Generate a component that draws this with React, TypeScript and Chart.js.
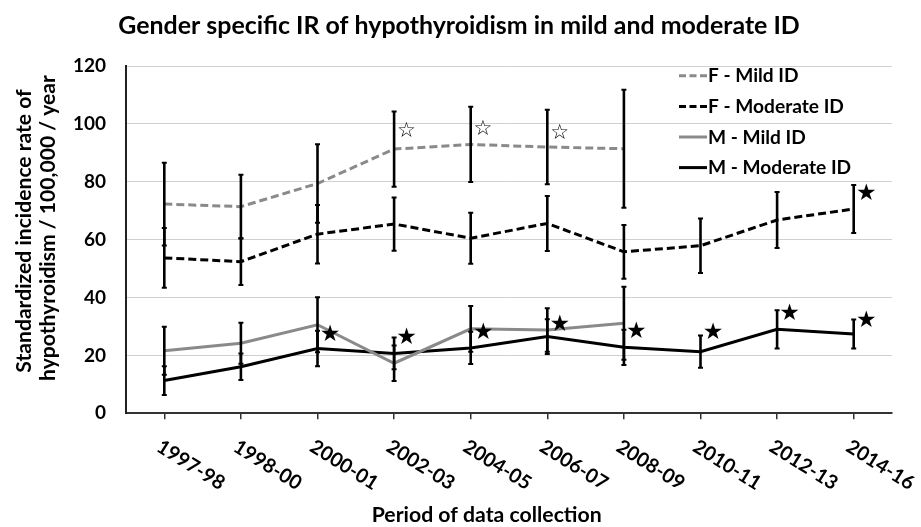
import { useEffect, useRef } from 'react';
import { Chart, registerables } from 'chart.js';

Chart.register(...registerables);

// ---------- data ----------
const categories = ['1997-98', '1998-00', '2000-01', '2002-03', '2004-05', '2006-07', '2008-09', '2010-11', '2012-13', '2014-16'];

const fMild = [72.3, 71.4, 79.4, 91.3, 92.9, 92.0, 91.4, null, null, null];
const fMildErr = [14.3, 11.0, 13.6, 13.0, 13.0, 12.9, 20.4, null, null, null];

const fModerate = [53.7, 52.4, 61.9, 65.4, 60.5, 65.6, 55.8, 57.9, 66.8, 70.6];
const fModerateErr = [10.3, 8.1, 10.1, 9.2, 8.8, 9.5, 9.3, 9.4, 9.7, 8.3];

const mMild = [21.6, 24.2, 30.6, 17.3, 29.2, 28.8, 31.1, null, null, null];
const mMildErr = [8.3, 7.1, 9.5, 6.1, 7.9, 7.5, 12.6, null, null, null];

const mModerate = [11.3, 16.1, 22.4, 20.7, 22.6, 26.5, 22.8, 21.3, 29.0, 27.4];
const mModerateErr = [5.0, 4.6, 6.1, 5.5, 5.6, 6.0, 6.1, 5.6, 6.6, 5.0];

// significance markers: category index + value level
const openStarCats = [3, 4, 5];
const openStarVals = [97.3, 98.2, 96.7];
const filledStarCats = [2, 3, 4, 5, 6, 7, 8, 9, 9];
const filledStarVals = [27.0, 26.1, 27.6, 30.5, 28.2, 27.8, 34.3, 32.0, 75.7];

const yTicks = [0, 20, 40, 60, 80, 100, 120];

const titleText = 'Gender specific IR of hypothyroidism in mild and moderate ID';
const yTitleLines = ['Standardized incidence rate of', 'hypothyroidism / 100,000 / year'];
const xTitleText = 'Period of data collection';
const legendLabels = ['F - Mild ID', 'F - Moderate ID', 'M - Mild ID', 'M - Moderate ID'];

// ---------- styles ----------
const FONT = 'Lato, "Open Sans", "DejaVu Sans", sans-serif';
const GRAY = '#8a8a8a';
const BLACK = '#000000';
const DASH = [8, 4];

function fitSize(ctx: CanvasRenderingContext2D, text: string, target: number) {
  ctx.font = `bold 20px ${FONT}`;
  const w = ctx.measureText(text).width;
  return (20 * target) / w;
}

const overlayPlugin = {
  id: 'overlay',
  afterDatasetsDraw(chart: any) {
    const { ctx } = chart;
    const x = chart.scales.x;
    const y = chart.scales.y;
    const sets: [(number | null)[], (number | null)[]][] = [
      [fMild, fMildErr],
      [fModerate, fModerateErr],
      [mMild, mMildErr],
      [mModerate, mModerateErr],
    ];
    ctx.save();
    ctx.strokeStyle = BLACK;
    ctx.lineCap = 'butt';
    sets.forEach(([vals, errs]) => {
      vals.forEach((v, i) => {
        const e = errs[i];
        if (v == null || e == null) return;
        const px = x.getPixelForValue(i);
        const top = y.getPixelForValue(v + e);
        const bot = y.getPixelForValue(v - e);
        ctx.lineWidth = 2.6;
        ctx.beginPath();
        ctx.moveTo(px, top);
        ctx.lineTo(px, bot);
        ctx.stroke();
        ctx.lineWidth = 2;
        ctx.beginPath();
        ctx.moveTo(px - 2.5, top);
        ctx.lineTo(px + 2.5, top);
        ctx.moveTo(px - 2.5, bot);
        ctx.lineTo(px + 2.5, bot);
        ctx.stroke();
      });
    });

    // stars
    ctx.fillStyle = BLACK;
    ctx.textAlign = 'center';
    ctx.textBaseline = 'middle';
    ctx.font = '23px "DejaVu Sans"';
    filledStarCats.forEach((c, i) => {
      ctx.fillText('\u2605', x.getPixelForValue(c) + 12.5, y.getPixelForValue(filledStarVals[i]));
    });
    ctx.font = '21px "DejaVu Sans"';
    openStarCats.forEach((c, i) => {
      ctx.fillText('\u2606', x.getPixelForValue(c) + 12.3, y.getPixelForValue(openStarVals[i]));
    });
    ctx.restore();
  },
  afterDraw(chart: any) {
    const { ctx } = chart;
    const x = chart.scales.x;
    const area = chart.chartArea;
    ctx.save();
    ctx.fillStyle = BLACK;

    // title
    const ts = fitSize(ctx, titleText, 682);
    ctx.font = `bold ${ts}px ${FONT}`;
    ctx.textAlign = 'center';
    ctx.textBaseline = 'alphabetic';
    ctx.fillText(titleText, 459, 33.5);

    // y axis title (two lines, rotated)
    const ys = fitSize(ctx, yTitleLines[1], 306);
    ctx.font = `bold ${ys}px ${FONT}`;
    [[31, 231], [55, 228]].forEach(([bx, cy], i) => {
      ctx.save();
      ctx.translate(bx, cy);
      ctx.rotate(-Math.PI / 2);
      ctx.textAlign = 'center';
      ctx.fillText(yTitleLines[i], 0, 0);
      ctx.restore();
    });

    // x axis title
    const xs = fitSize(ctx, xTitleText, 230);
    ctx.font = `bold ${xs}px ${FONT}`;
    ctx.textAlign = 'center';
    ctx.fillText(xTitleText, 486.7, 522);

    // x tick labels rotated clockwise
    const ls = fitSize(ctx, categories[0], 76);
    ctx.font = `bold ${ls}px ${FONT}`;
    const ang = (32 * Math.PI) / 180;
    categories.forEach((lab, i) => {
      const px = x.getPixelForValue(i);
      ctx.save();
      ctx.translate(px - 9, area.bottom + 37);
      ctx.rotate(ang);
      ctx.textAlign = 'left';
      ctx.fillText(lab, 0, 0);
      ctx.restore();
    });

    // legend
    const gs = fitSize(ctx, legendLabels[1], 136);
    ctx.font = `bold ${gs}px ${FONT}`;
    ctx.textAlign = 'left';
    const colors = [GRAY, BLACK, GRAY, BLACK];
    const dashed = [true, true, false, false];
    legendLabels.forEach((lab, i) => {
      const baseY = 82.3 + i * 30.6;
      const midY = baseY - 6.5;
      ctx.beginPath();
      ctx.strokeStyle = colors[i];
      ctx.lineWidth = 3;
      ctx.setLineDash(dashed[i] ? [7, 3.5] : []);
      ctx.moveTo(679, midY);
      ctx.lineTo(707, midY);
      ctx.stroke();
      ctx.setLineDash([]);
      ctx.fillStyle = BLACK;
      ctx.fillText(lab, 708, baseY);
    });
    ctx.restore();
  },
};

export default function App() {
  const ref = useRef<HTMLCanvasElement>(null);
  useEffect(() => {
    if (!ref.current) return;
    const chart = new Chart(ref.current, {
      type: 'line',
      data: {
        labels: categories,
        datasets: [
          { label: legendLabels[0], data: fMild, borderColor: GRAY, borderDash: DASH, borderWidth: 3, pointRadius: 0, tension: 0, fill: false },
          { label: legendLabels[1], data: fModerate, borderColor: BLACK, borderDash: DASH, borderWidth: 3, pointRadius: 0, tension: 0, fill: false },
          { label: legendLabels[2], data: mMild, borderColor: GRAY, borderWidth: 3, pointRadius: 0, tension: 0, fill: false },
          { label: legendLabels[3], data: mModerate, borderColor: BLACK, borderWidth: 3, pointRadius: 0, tension: 0, fill: false },
        ],
      },
      options: {
        responsive: false,
        animation: false,
        spanGaps: false,
        layout: { padding: { top: 66, right: 29, bottom: 0, left: 0 } },
        plugins: { legend: { display: false }, title: { display: false }, tooltip: { enabled: false } },
        scales: {
          x: {
            type: 'category',
            offset: true,
            grid: { drawOnChartArea: false, drawTicks: true, tickLength: 6, color: '#333', lineWidth: 1.5, offset: false },
            border: { display: true, color: '#333', width: 2 },
            ticks: { display: false },
            afterFit: (s: any) => { s.height = 113.7; },
          },
          y: {
            min: 0,
            max: 120,
            afterBuildTicks: (s: any) => { s.ticks = yTicks.map((v) => ({ value: v })); },
            grid: { color: '#d0d0d0', lineWidth: 1, drawTicks: false },
            border: { display: true, color: '#222', width: 2 },
            ticks: { color: BLACK, padding: 20, font: { family: FONT, size: 19, weight: 'bold' } },
            afterFit: (s: any) => { s.width = 126; },
          },
        },
      },
      plugins: [overlayPlugin],
    });
    return () => chart.destroy();
  }, []);
  return (
    <div style={{ position: 'absolute', left: 0, top: 0, width: 921, height: 527, background: '#fff' }}>
      <canvas ref={ref} width={921} height={527} style={{ display: 'block' }} />
    </div>
  );
}
